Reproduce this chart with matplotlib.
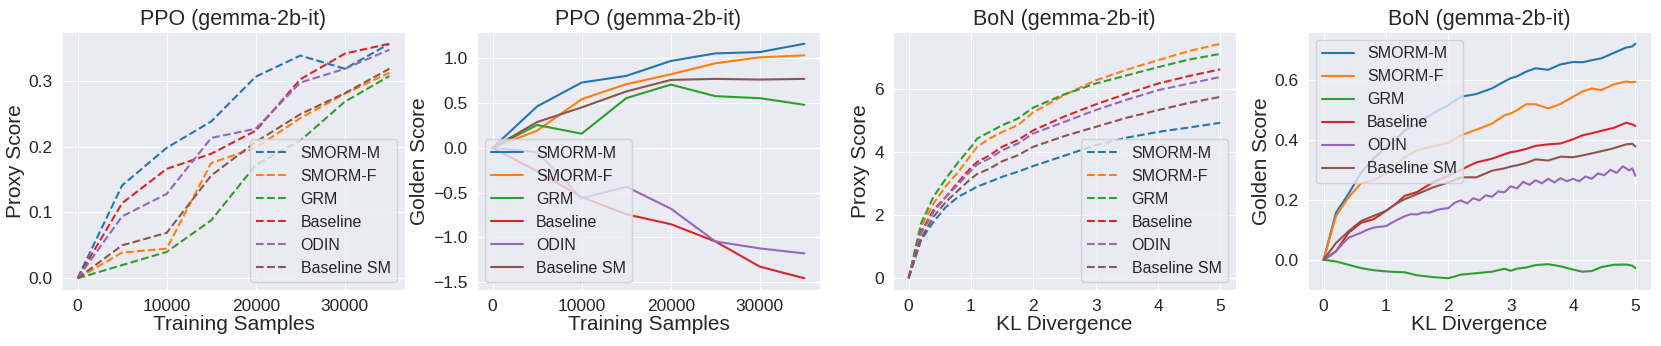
import matplotlib
matplotlib.use("Agg")
import matplotlib.pyplot as plt
import matplotlib.ticker as mticker
import seaborn as sns

# ---------------------------------------------------------------------------
# Data
# ---------------------------------------------------------------------------

methods = ["SMORM-M", "SMORM-F", "GRM", "Baseline", "ODIN", "Baseline SM"]
colors = ["#1f77b4", "#ff7f0e", "#2ca02c", "#d62728", "#9467bd", "#8c564b"]

steps = [0, 5000, 10000, 15000, 20000, 25000, 30000, 35000]

ppo_proxy_smorm_m = [0, 0.141, 0.198, 0.238, 0.306, 0.338, 0.318, 0.356]
ppo_proxy_smorm_f = [0, 0.039, 0.045, 0.175, 0.198, 0.243, 0.280, 0.312]
ppo_proxy_grm = [0, 0.020, 0.040, 0.088, 0.172, 0.209, 0.268, 0.307]
ppo_proxy_baseline = [0, 0.114, 0.166, 0.189, 0.224, 0.302, 0.341, 0.356]
ppo_proxy_odin = [0, 0.094, 0.128, 0.213, 0.227, 0.297, 0.318, 0.347]
ppo_proxy_baseline_sm = [0, 0.050, 0.069, 0.156, 0.207, 0.249, 0.281, 0.318]

ppo_gold_smorm_m = [0, 0.464, 0.731, 0.805, 0.972, 1.057, 1.072, 1.165]
ppo_gold_smorm_f = [0, 0.193, 0.545, 0.712, 0.823, 0.946, 1.013, 1.035]
ppo_gold_grm = [0, 0.256, 0.159, 0.556, 0.708, 0.579, 0.556, 0.482]
ppo_gold_baseline = [0, -0.26, -0.55, -0.742, -0.853, -1.046, -1.328, -1.458]
ppo_gold_odin = [0, -0.048, -0.564, -0.434, -0.679, -1.046, -1.124, -1.180]
ppo_gold_baseline_sm = [0, 0.289, 0.453, 0.631, 0.760, 0.772, 0.764, 0.772]

kl_proxy = [0, 0.2, 0.4, 0.6, 0.8, 1.0, 1.1, 1.3, 1.5, 1.75, 2.0, 2.5,
            3.0, 3.5, 4.0, 4.5, 5.0]
bon_proxy_smorm_m = [0, 1.21, 1.79, 2.26, 2.58, 2.79, 2.90, 3.05, 3.21, 3.37,
                     3.55, 3.88, 4.21, 4.45, 4.63, 4.77, 4.92]
bon_proxy_smorm_f = [0, 1.63, 2.37, 2.92, 3.37, 3.90, 4.16, 4.42, 4.63, 4.84,
                     5.25, 5.80, 6.26, 6.60, 6.90, 7.19, 7.42]
bon_proxy_grm = [0, 1.74, 2.58, 3.16, 3.68, 4.15, 4.42, 4.63, 4.84, 5.05,
                 5.40, 5.82, 6.16, 6.42, 6.68, 6.92, 7.10]
bon_proxy_baseline = [0, 1.47, 2.16, 2.58, 3.05, 3.50, 3.68, 3.89, 4.16, 4.37,
                      4.68, 5.12, 5.50, 5.84, 6.16, 6.40, 6.61]
bon_proxy_odin = [0, 1.42, 2.10, 2.58, 2.98, 3.40, 3.60, 3.79, 4.05, 4.26,
                  4.58, 4.95, 5.32, 5.65, 5.95, 6.16, 6.37]
bon_proxy_baseline_sm = [0, 1.26, 1.95, 2.42, 2.79, 3.15, 3.30, 3.47, 3.70,
                         3.89, 4.16, 4.50, 4.79, 5.08, 5.32, 5.55, 5.74]

kl_gold = [0, 0.2, 0.4, 0.6, 0.8, 1.0, 1.15, 1.3, 1.5, 1.75, 2.0, 2.2, 2.45,
           2.7, 2.9, 3.0, 3.1, 3.25, 3.4, 3.6, 3.8, 4.0, 4.15, 4.3, 4.45,
           4.65, 4.85, 4.95, 5.0]
bon_gold_smorm_m = [0, 0.157, 0.220, 0.290, 0.337, 0.376, 0.398, 0.432, 0.454,
                    0.488, 0.516, 0.544, 0.553, 0.572, 0.595, 0.606, 0.612,
                    0.628, 0.639, 0.634, 0.652, 0.660, 0.659, 0.666, 0.672,
                    0.690, 0.708, 0.712, 0.721]
bon_gold_smorm_f = [0, 0.146, 0.208, 0.255, 0.266, 0.286, 0.315, 0.342, 0.365,
                    0.378, 0.390, 0.415, 0.434, 0.454, 0.482, 0.488, 0.499,
                    0.519, 0.519, 0.505, 0.520, 0.544, 0.561, 0.572, 0.566,
                    0.585, 0.595, 0.592, 0.594]
bon_gold_grm = [0, -0.006, -0.017, -0.028, -0.035, -0.039, -0.041, -0.042,
                -0.052, -0.058, -0.062, -0.050, -0.045, -0.040, -0.030,
                -0.037, -0.030, -0.026, -0.018, -0.015, -0.022, -0.033,
                -0.040, -0.038, -0.025, -0.017, -0.016, -0.020, -0.028]
bon_gold_baseline = [0, 0.028, 0.090, 0.123, 0.135, 0.163, 0.185, 0.213, 0.226,
                     0.258, 0.280, 0.300, 0.325, 0.337, 0.352, 0.359, 0.362,
                     0.370, 0.380, 0.385, 0.388, 0.402, 0.415, 0.422, 0.430,
                     0.440, 0.457, 0.452, 0.446]
bon_gold_baseline_sm = [0, 0.056, 0.095, 0.129, 0.146, 0.163, 0.185, 0.202,
                        0.219, 0.241, 0.258, 0.275, 0.275, 0.297, 0.305, 0.311,
                        0.315, 0.323, 0.335, 0.331, 0.344, 0.342, 0.348, 0.355,
                        0.362, 0.372, 0.385, 0.387, 0.378]

# ODIN is much noisier, so it gets its own denser sampling
kl_gold_odin = [0, 0.1, 0.2, 0.3, 0.4, 0.5, 0.6, 0.7, 0.8, 0.9, 1.0, 1.1, 1.2,
                1.3, 1.4, 1.5, 1.6, 1.7, 1.8, 1.9, 2.0, 2.1, 2.2, 2.3, 2.4,
                2.5, 2.6, 2.7, 2.8, 2.9, 3.0, 3.1, 3.2, 3.3, 3.4, 3.5, 3.6,
                3.7, 3.8, 3.9, 4.0, 4.1, 4.2, 4.3, 4.4, 4.5, 4.6, 4.7, 4.8,
                4.9, 4.95, 5.0]
bon_gold_odin = [0, 0.012, 0.028, 0.052, 0.073, 0.082, 0.090, 0.100, 0.107,
                 0.110, 0.112, 0.124, 0.135, 0.145, 0.152, 0.151, 0.158, 0.157,
                 0.165, 0.170, 0.172, 0.190, 0.198, 0.188, 0.205, 0.198, 0.215,
                 0.210, 0.228, 0.225, 0.245, 0.238, 0.260, 0.250, 0.265, 0.255,
                 0.270, 0.258, 0.272, 0.262, 0.270, 0.262, 0.278, 0.270, 0.288,
                 0.282, 0.300, 0.290, 0.312, 0.298, 0.305, 0.280]

# ---------------------------------------------------------------------------
# Plotting
# ---------------------------------------------------------------------------

sns.set_style("darkgrid")
plt.rcParams["font.family"] = ["Liberation Sans", "DejaVu Sans"]

fig = plt.figure(figsize=(16.61, 3.46), dpi=100)

W, H = 1661, 346
lefts = [62, 477, 893, 1308]
width = 343
top, bottom = 32, 290
axes = [fig.add_axes([l / W, (H - bottom) / H, width / W, (bottom - top) / H])
        for l in lefts]

panels = [
    (steps, [ppo_proxy_smorm_m, ppo_proxy_smorm_f, ppo_proxy_grm,
             ppo_proxy_baseline, ppo_proxy_odin, ppo_proxy_baseline_sm],
     "--", "PPO (gemma-2b-it)", "Training Samples", "Proxy Score", "lower right", 0.1),
    (steps, [ppo_gold_smorm_m, ppo_gold_smorm_f, ppo_gold_grm,
             ppo_gold_baseline, ppo_gold_odin, ppo_gold_baseline_sm],
     "-", "PPO (gemma-2b-it)", "Training Samples", "Golden Score", "lower left", 0.5),
    (kl_proxy, [bon_proxy_smorm_m, bon_proxy_smorm_f, bon_proxy_grm,
                bon_proxy_baseline, bon_proxy_odin, bon_proxy_baseline_sm],
     "--", "BoN (gemma-2b-it)", "KL Divergence", "Proxy Score", "lower right", 2),
    (kl_gold, [bon_gold_smorm_m, bon_gold_smorm_f, bon_gold_grm,
               bon_gold_baseline, bon_gold_odin, bon_gold_baseline_sm],
     "-", "BoN (gemma-2b-it)", "KL Divergence", "Golden Score", "upper left", 0.2),
]

for i, (ax, (xs, series, ls, title, xlabel, ylabel, loc, ystep)) in enumerate(zip(axes, panels)):
    for name, ys, c in zip(methods, series, colors):
        x = xs
        if i == 3 and name == "ODIN":
            x = kl_gold_odin
        ax.plot(x, ys, linestyle=ls, color=c, linewidth=1.5, label=name)
    ax.set_title(title, fontsize=15.5, pad=5)
    ax.set_xlabel(xlabel, fontsize=15, labelpad=1)
    ax.set_ylabel(ylabel, fontsize=15, labelpad=3)
    ax.yaxis.set_major_locator(mticker.MultipleLocator(ystep))
    ax.tick_params(labelsize=12.5, pad=3)
    ax.legend(loc=loc, fontsize=11.5, frameon=True)

fig.savefig("out.png", dpi=100)
